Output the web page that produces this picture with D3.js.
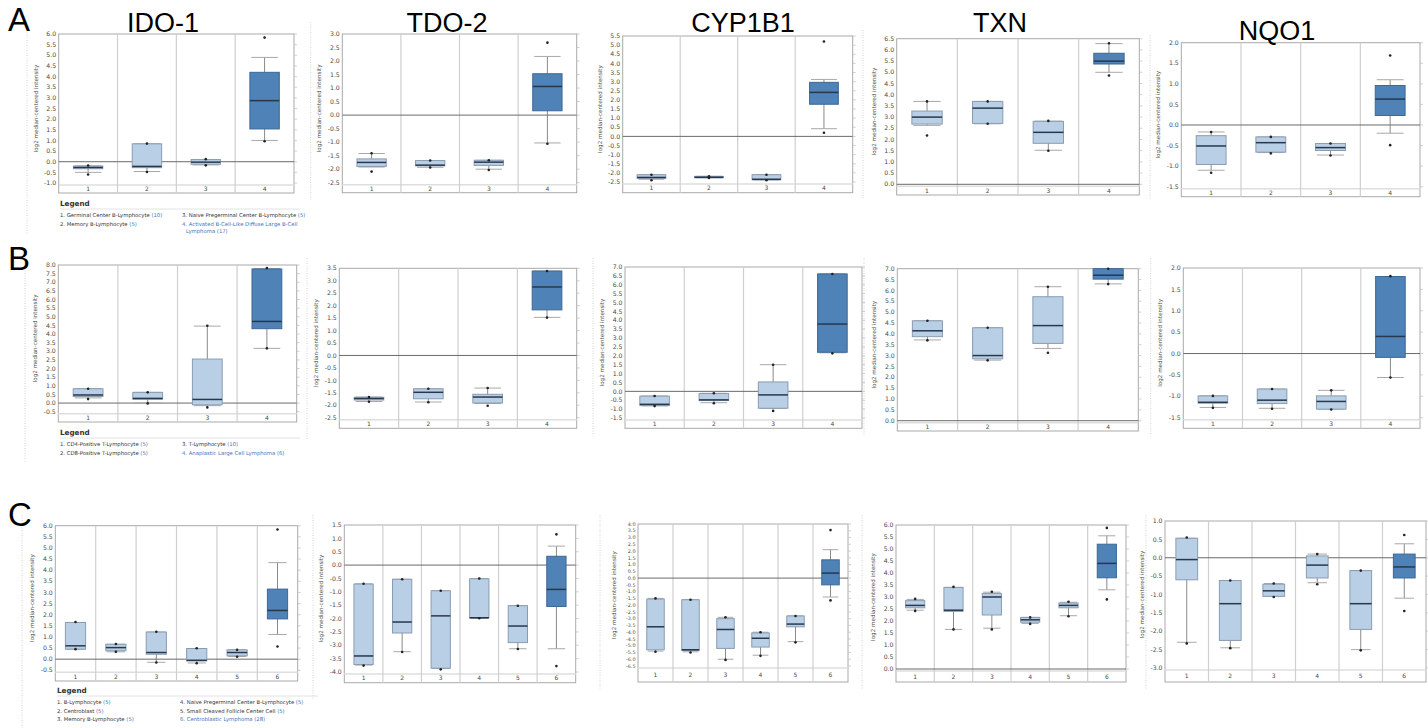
<!DOCTYPE html>
<html><head><meta charset="utf-8">
<script src="https://cdn.jsdelivr.net/npm/d3@7"></script>
<style>body{margin:0;background:#fff} svg{display:block}</style>
</head><body>
<svg id="c" width="1428" height="728"></svg>
<script>
// ---------- data ----------
const genes = ["IDO-1", "TDO-2", "CYP1B1", "TXN", "NQO1"];
const rowLetters = ["A", "B", "C"];
const yAxisTitle = "log2 median-centered intensity";
const catsRowA = ["1", "2", "3", "4"];
const catsRowB = ["1", "2", "3", "4"];
const catsRowC = ["1", "2", "3", "4", "5", "6"];

// y ranges (lowest tick, highest tick), ticks every 0.5
const domainA = [[-1, 6], [-2.5, 3], [-2.5, 5.5], [0, 6.5], [-1.5, 2]];
const domainB = [[-0.5, 8], [-2.5, 3.5], [-1.5, 7], [0, 7], [-1.5, 2]];
const domainC = [[-0.5, 6], [-4, 1.5], [-6.5, 4], [0, 6], [-3, 1]];
const tickStep = 0.5;

// each box: [min, p10, q1, median, q3, p90, max]
const a_ido1 = [[-0.6,-0.5,-0.33,-0.27,-0.2,-0.2,-0.18],[-0.48,-0.46,-0.28,-0.22,0.84,0.84,0.85],[-0.17,-0.15,-0.12,-0.02,0.1,0.1,0.12],[0.96,1.0,1.54,2.87,4.2,4.9,5.83]];
const a_tdo2 = [[-2.09,-1.92,-1.9,-1.75,-1.62,-1.42,-1.41],[-1.94,-1.93,-1.88,-1.85,-1.68,-1.68,-1.68],[-2.03,-2.0,-1.86,-1.74,-1.67,-1.67,-1.67],[-1.06,-1.03,0.16,1.06,1.53,2.17,2.68]];
const a_cyp1b1 = [[-2.4,-2.35,-2.3,-2.25,-2.1,-2.1,-2.1],[-2.28,-2.27,-2.27,-2.24,-2.19,-2.19,-2.19],[-2.4,-2.39,-2.38,-2.35,-2.1,-2.1,-2.1],[0.2,0.42,1.76,2.41,2.96,3.12,5.2]];
const a_txn = [[2.18,2.63,2.69,3.0,3.27,3.7,3.7],[2.7,2.7,2.72,3.4,3.7,3.7,3.7],[1.5,1.52,1.83,2.32,2.81,2.82,2.83],[4.86,5.0,5.37,5.5,5.85,6.28,6.3]];
const a_nqo1 = [[-1.16,-1.1,-0.96,-0.51,-0.26,-0.17,-0.17],[-0.69,-0.67,-0.66,-0.43,-0.29,-0.29,-0.29],[-0.74,-0.73,-0.62,-0.55,-0.45,-0.45,-0.45],[-0.49,-0.2,0.23,0.63,0.96,1.1,1.69]];

const b_ido1 = [[0.23,0.3,0.38,0.47,0.83,0.83,0.83],[-0.02,0.0,0.22,0.27,0.62,0.62,0.62],[-0.25,-0.15,-0.1,0.21,2.55,4.46,4.48],[3.17,3.17,4.31,4.73,7.77,7.8,7.82]];
const b_tdo2 = [[-1.86,-1.85,-1.79,-1.73,-1.68,-1.67,-1.67],[-1.88,-1.87,-1.74,-1.48,-1.34,-1.34,-1.34],[-2.02,-1.93,-1.91,-1.67,-1.56,-1.31,-1.31],[1.52,1.53,1.83,2.75,3.39,3.39,3.39]];
const b_cyp1b1 = [[-0.83,-0.82,-0.8,-0.73,-0.27,-0.26,-0.26],[-0.67,-0.64,-0.52,-0.48,-0.12,-0.11,-0.11],[-1.1,-0.96,-0.95,-0.2,0.53,1.5,1.5],[2.14,2.17,2.2,3.79,6.61,6.61,6.61]];
const b_txn = [[3.7,3.72,3.87,4.14,4.6,4.6,4.6],[2.78,2.79,2.85,3.0,4.28,4.28,4.28],[3.13,3.33,3.56,4.38,5.71,6.17,6.17],[6.29,6.3,6.52,6.7,7.0,7.0,7.0]];
const b_nqo1 = [[-1.27,-1.26,-1.16,-1.14,-0.99,-0.99,-0.99],[-1.29,-1.28,-1.17,-1.09,-0.83,-0.83,-0.83],[-1.31,-1.3,-1.3,-1.12,-0.99,-0.86,-0.86],[-0.56,-0.56,-0.09,0.4,1.8,1.8,1.81]];

const c_ido1 = [[0.45,0.45,0.45,0.6,1.65,1.65,1.67],[0.33,0.33,0.38,0.52,0.67,0.67,0.68],[-0.15,-0.14,0.22,0.3,1.22,1.22,1.23],[-0.18,-0.17,-0.08,-0.05,0.48,0.48,0.49],[0.11,0.12,0.15,0.3,0.42,0.42,0.42],[0.57,1.11,1.81,2.19,3.15,4.34,5.83]];
const c_tdo2 = [[-3.76,-3.74,-3.72,-3.4,-0.71,-0.7,-0.7],[-3.25,-3.24,-2.54,-2.13,-0.53,-0.53,-0.53],[-3.9,-3.87,-3.86,-1.9,-0.96,-0.96,-0.96],[-1.99,-1.99,-1.98,-1.97,-0.51,-0.5,-0.5],[-3.14,-3.13,-2.9,-2.28,-1.52,-1.52,-1.52],[-3.78,-3.13,-1.55,-0.91,0.33,0.71,1.15]];
const c_cyp1b1 = [[-5.45,-5.4,-5.3,-3.6,-1.55,-1.5,-1.5],[-5.5,-5.45,-5.35,-5.3,-1.6,-1.6,-1.6],[-6.05,-6.0,-5.2,-3.8,-3.0,-2.9,-2.9],[-5.75,-5.7,-5.1,-4.45,-4.05,-4.0,-4.0],[-4.75,-4.7,-3.6,-3.4,-2.8,-2.8,-2.8],[-1.65,-1.4,-0.5,0.37,1.35,2.1,3.55]];
const c_txn = [[2.42,2.45,2.55,2.65,2.85,2.9,2.92],[1.65,1.65,2.4,2.45,3.4,3.4,3.42],[1.65,1.7,2.25,3.0,3.15,3.2,3.22],[1.88,1.9,1.95,2.05,2.15,2.15,2.15],[2.2,2.22,2.55,2.65,2.75,2.78,2.8],[2.9,3.3,3.8,4.4,5.2,5.55,5.88]];
const c_nqo1 = [[-2.33,-2.3,-0.6,-0.05,0.53,0.53,0.55],[-2.46,-2.45,-2.25,-1.25,-0.62,-0.62,-0.62],[-1.07,-1.05,-1.05,-0.9,-0.72,-0.7,-0.7],[-0.72,-0.68,-0.55,-0.2,0.05,0.1,0.1],[-2.52,-2.5,-1.95,-1.25,-0.35,-0.35,-0.35],[-1.45,-1.1,-0.55,-0.25,0.1,0.38,0.62]];

const rowAData = [a_ido1, a_tdo2, a_cyp1b1, a_txn, a_nqo1];
const rowBData = [b_ido1, b_tdo2, b_cyp1b1, b_txn, b_nqo1];
const rowCData = [c_ido1, c_tdo2, c_cyp1b1, c_txn, c_nqo1];

const legendA = [["1. Germinal Center B-Lymphocyte", "(10)"], ["2. Memory B-Lymphocyte", "(5)"], ["3. Naive Pregerminal Center B-Lymphocyte", "(5)"], ["4. Activated B-Cell-Like Diffuse Large B-Cell|Lymphoma", "(17)"]];
const legendB = [["1. CD4-Positive T-Lymphocyte", "(5)"], ["2. CD8-Positive T-Lymphocyte", "(5)"], ["3. T-Lymphocyte", "(10)"], ["4. Anaplastic Large Cell Lymphoma", "(6)"]];
const legendC = [["1. B-Lymphocyte", "(5)"], ["2. Centroblast", "(5)"], ["3. Memory B-Lymphocyte", "(5)"], ["4. Naive Pregerminal Center B-Lymphocyte", "(5)"], ["5. Small Cleaved Follicle Center Cell", "(5)"], ["6. Centroblastic Lymphoma", "(28)"]];

// ---------- layout (pixels) ----------
const layoutA = [
  {x0: 58.7, x1: 294, yHi: 34, yLo: 183, yB: 193},
  {x0: 342.3, x1: 576.7, yHi: 34, yLo: 182.7, yB: 192.7},
  {x0: 622.7, x1: 852.7, yHi: 36, yLo: 182, yB: 192.7},
  {x0: 896.7, x1: 1139.3, yHi: 38.7, yLo: 184.3, yB: 195},
  {x0: 1181.3, x1: 1420, yHi: 42.7, yLo: 186.7, yB: 196.7}
];
const layoutB = [
  {x0: 58.3, x1: 296.7, yHi: 265, yLo: 411.7, yB: 422},
  {x0: 339.3, x1: 576.7, yHi: 268.3, yLo: 417.7, yB: 428.3},
  {x0: 625, x1: 862, yHi: 267, yLo: 418, yB: 428.3},
  {x0: 897.3, x1: 1138.3, yHi: 268.7, yLo: 420.7, yB: 431},
  {x0: 1183.3, x1: 1420, yHi: 268, yLo: 417.7, yB: 428.3}
];
const layoutC = [
  {x0: 55.3, x1: 297.7, yHi: 525.7, yLo: 670.3, yB: 681},
  {x0: 344.3, x1: 575.7, yHi: 525, yLo: 672, yB: 682.7},
  {x0: 638, x1: 848, yHi: 524, yLo: 666, yB: 682, small: true},
  {x0: 896, x1: 1126, yHi: 525, yLo: 669, yB: 682},
  {x0: 1165, x1: 1426, yHi: 521, yLo: 668, yB: 682}
];
const titlePos = [{x: 163, y: 31.5}, {x: 447, y: 31.5}, {x: 743, y: 31.5}, {x: 1000, y: 31.5}, {x: 1277, y: 39.5}];
const letterPos = [{x: 8, y: 31}, {x: 8, y: 270}, {x: 8, y: 526}];
const dottedLines = [
  [27, 30, 235], [310.7, 22, 200], [863, 30, 200], [1150, 35, 200],
  [25, 258, 462], [307, 258, 440], [593, 258, 436], [864, 258, 436], [1150.7, 258, 436],
  [22, 515, 728], [313, 515, 700], [600, 515, 690], [862, 515, 690], [1146, 515, 690]
];

const C = {
  light: "#b9cfe6", lightStroke: "#8a9cb2", dark: "#4f82b7", darkStroke: "#3d6895",
  median: "#28384c", whisk: "#7c7c7c", cap: "#a8a8a8", frame: "#a9a9a9", sep: "#cfcfcf",
  text: "#4a4a4a", zero: "#6a6a6a", link: "#3f74b8"
};

const svg = d3.select("#c");
const fmt = v => (Math.abs(v) < 1e-9 ? 0 : v).toFixed(1);

function drawPanel(L, dom, data, cats) {
  const g = svg.append("g");
  const y = d3.scaleLinear().domain(dom).range([L.yLo, L.yHi]);
  const x = d3.scaleBand().domain(cats).range([L.x0, L.x1]);
  const stripTop = L.yLo + 2;
  g.append("rect").attr("x", L.x0).attr("y", L.yHi).attr("width", L.x1 - L.x0).attr("height", L.yB - L.yHi)
    .attr("fill", "#fff").attr("stroke", C.frame).attr("stroke-width", 1);
  g.append("line").attr("x1", L.x0).attr("x2", L.x1).attr("y1", stripTop).attr("y2", stripTop)
    .attr("stroke", "#dedede").attr("stroke-width", 1.6);
  cats.slice(1).forEach(c => {
    g.append("line").attr("x1", x(c)).attr("x2", x(c)).attr("y1", L.yHi).attr("y2", L.yB)
      .attr("stroke", C.sep).attr("stroke-width", 1.2);
  });
  const ticks = d3.range(dom[0], dom[1] + 1e-6, tickStep);
  const fs = L.small ? 4.9 : 6.2;
  ticks.forEach(t => {
    g.append("text").attr("x", L.x0 - 2.5).attr("y", y(t)).attr("dy", "0.35em")
      .attr("text-anchor", "end").attr("font-family", "DejaVu Sans").attr("font-size", fs)
      .attr("fill", C.text).text(fmt(t));
    g.append("line").attr("x1", L.x1).attr("x2", L.x1 + 3).attr("y1", y(t)).attr("y2", y(t))
      .attr("stroke", "#c4c4c4").attr("stroke-width", 0.8);
  });
  const ym = (L.yHi + L.yLo) / 2;
  const tx = L.x0 - (L.small ? 22 : 21);
  g.append("text").attr("transform", `translate(${tx},${ym}) rotate(-90)`)
    .attr("text-anchor", "middle").attr("font-family", "DejaVu Sans").attr("font-size", 5.6)
    .attr("fill", C.text).text(yAxisTitle);
  cats.forEach(c => {
    g.append("text").attr("x", x(c) + x.bandwidth() / 2).attr("y", (stripTop + L.yB) / 2).attr("dy", "0.35em")
      .attr("text-anchor", "middle").attr("font-family", "DejaVu Sans").attr("font-size", 6)
      .attr("fill", C.text).text(c);
  });
  g.append("line").attr("x1", L.x0).attr("x2", L.x1).attr("y1", y(0)).attr("y2", y(0))
    .attr("stroke", C.zero).attr("stroke-width", 1);
  const bw = x.bandwidth() * 0.5, cw = x.bandwidth() * 0.45;
  data.forEach((d, i) => {
    const c = cats[i];
    const cx = x(c) + x.bandwidth() / 2;
    const hi = i === data.length - 1;
    const [mn, p10, q1, md, q3, p90, mx] = d;
    g.append("line").attr("x1", cx).attr("x2", cx).attr("y1", y(p10)).attr("y2", y(p90))
      .attr("stroke", C.whisk).attr("stroke-width", 0.9);
    [p10, p90].forEach(v => g.append("line").attr("x1", cx - cw / 2).attr("x2", cx + cw / 2)
      .attr("y1", y(v)).attr("y2", y(v)).attr("stroke", C.cap).attr("stroke-width", 1));
    g.append("rect").attr("x", cx - bw / 2).attr("y", y(q3)).attr("width", bw)
      .attr("height", Math.max(1, y(q1) - y(q3)))
      .attr("fill", hi ? C.dark : C.light).attr("stroke", hi ? C.darkStroke : C.lightStroke).attr("stroke-width", 1);
    g.append("line").attr("x1", cx - bw / 2).attr("x2", cx + bw / 2).attr("y1", y(md)).attr("y2", y(md))
      .attr("stroke", C.median).attr("stroke-width", 1.5);
    [mn, mx].forEach(v => g.append("circle").attr("cx", cx).attr("cy", y(v)).attr("r", 1.3).attr("fill", "#222"));
  });
}

function drawLegend(items, x, y, col2x, rowsCol1, lineRight) {
  const g = svg.append("g").attr("font-family", "DejaVu Sans");
  g.append("text").attr("x", x).attr("y", y).attr("font-size", 7.2).attr("font-weight", "bold")
    .attr("fill", "#333").text("Legend");
  g.append("line").attr("x1", x).attr("x2", lineRight).attr("y1", y + 3).attr("y2", y + 3)
    .attr("stroke", "#e2e2e2").attr("stroke-width", 1);
  items.forEach((it, i) => {
    const col = i < rowsCol1 ? 0 : 1;
    const r = col === 0 ? i : i - rowsCol1;
    const last = i === items.length - 1;
    const parts = it[0].split("|");
    const lx = col === 0 ? x : col2x;
    const ly = y + 11 + r * 8.6;
    parts.forEach((p, k) => {
      const t = g.append("text").attr("x", lx + (k > 0 ? 4 : 0)).attr("y", ly + k * 7.2)
        .attr("font-size", 5.3).attr("fill", last ? C.link : "#333");
      t.append("tspan").text(p);
      if (k === parts.length - 1) t.append("tspan").attr("fill", C.link).text(" " + it[1]);
    });
  });
}

dottedLines.forEach(d => svg.append("line").attr("x1", d[0]).attr("x2", d[0]).attr("y1", d[1]).attr("y2", d[2])
  .attr("stroke", "#c9c9c9").attr("stroke-width", 0.8).attr("stroke-dasharray", "1,1.5"));

[[layoutA, domainA, rowAData, catsRowA], [layoutB, domainB, rowBData, catsRowB], [layoutC, domainC, rowCData, catsRowC]]
  .forEach(([lay, dom, dat, cats]) => lay.forEach((L, j) => drawPanel(L, dom[j], dat[j], cats)));

genes.forEach((gname, j) => svg.append("text").attr("x", titlePos[j].x).attr("y", titlePos[j].y)
  .attr("text-anchor", "middle").attr("font-family", "Liberation Sans").attr("font-size", 27)
  .attr("fill", "#000").text(gname));
rowLetters.forEach((l, i) => svg.append("text").attr("x", letterPos[i].x).attr("y", letterPos[i].y)
  .attr("font-family", "Liberation Sans").attr("font-size", 33).attr("fill", "#000").text(l));

drawLegend(legendA, 60, 206, 182, 2, 300);
drawLegend(legendB, 60, 435, 182, 2, 300);
drawLegend(legendC, 57, 693, 180, 3, 318);
</script>
</body></html>
